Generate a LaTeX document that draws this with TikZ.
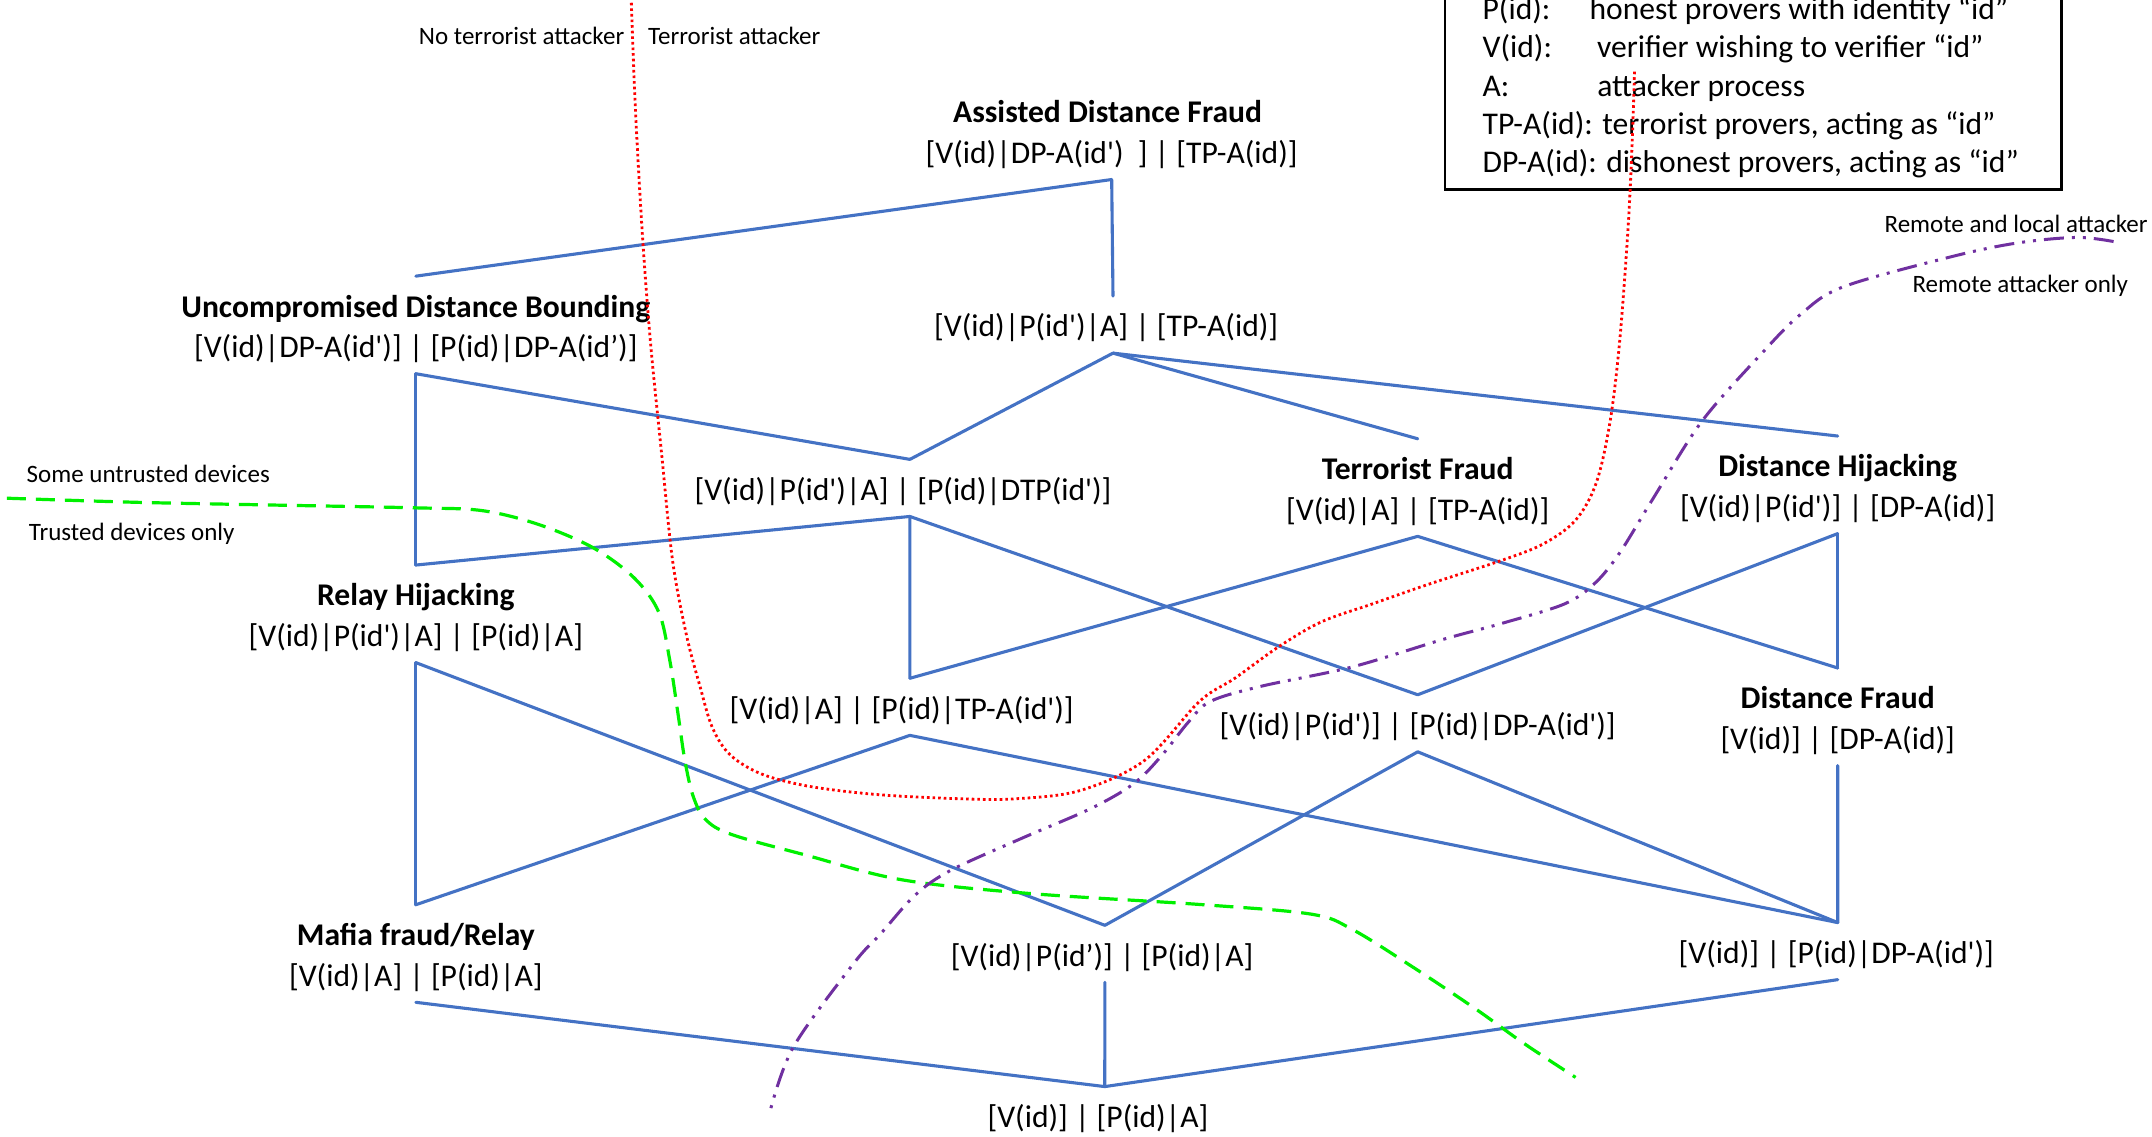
\documentclass[tikz,border=0pt]{standalone}
\usepackage{fontspec}
\setmainfont{Carlito}[Ligatures=TeXOff]
\definecolor{linkblue}{HTML}{4472C4}
\definecolor{trustgreen}{HTML}{00F000}
\definecolor{remotepurple}{HTML}{7030A0}
\begin{document}
\begin{tikzpicture}[x=0.6862pt,y=-0.6862pt,
  state/.style={inner xsep=1pt, inner ysep=6.27pt, text height=14pt, text depth=1.6pt,
    font=\fontsize{15.8}{19}\selectfont},
  title/.style={state, font=\fontsize{15.8}{19}\selectfont\bfseries},
  note/.style={inner sep=0pt, font=\fontsize{12.5}{15}\selectfont},
  legendline/.style={state, anchor=west, inner xsep=0pt},
  legendframe/.style={draw=black, line width=1.2pt},
  link/.style={draw=linkblue, line width=1.55pt, line cap=round},
  terror/.style={draw=red, line width=1.4pt, dash pattern=on 1.3pt off 1.5pt},
  trust/.style={draw=trustgreen, line width=1.6pt, dash pattern=on 9.5pt off 5pt},
  remote/.style={draw=remotepurple, line width=1.5pt,
    dash pattern=on 10pt off 4pt on 1.5pt off 4pt on 1.5pt off 4pt}
]
\useasboundingbox (0,0) rectangle (1568,828.4);
\clip (0,0) rectangle (1568,828.4);

% legend
\draw[legendframe] (1053,-40) rectangle (1502,138);
\node[legendline] (leg1) at (1080,5) {\makebox[53.5pt][l]{P(id):}honest provers with identity “id”};
\node[legendline] (leg2) at (1080,33) {\makebox[57.3pt][l]{V(id):}verifier wishing to verifier “id”};
\node[legendline] (leg3) at (1080,61) {\makebox[57.3pt][l]{A:}attacker process};
\node[legendline] (leg4) at (1080,89) {TP-A(id): terrorist provers, acting as “id”};
\node[legendline] (leg5) at (1080,117) {DP-A(id): dishonest provers, acting as “id”};

% lattice of attacker models
\node[title] (adft) at (807,80.5) {Assisted Distance Fraud};
\node[state] (adf)  at (810,110) {[V(id)|DP-A(id')\ \ ] | [TP-A(id)]};
\node[title] (udbt) at (303,222) {Uncompromised Distance Bounding};
\node[state] (udb)  at (303,251.5) {[V(id)|DP-A(id')] | [P(id)|DP-A(id’)]};
\node[state] (n3)   at (806,236.5) {[V(id)|P(id')|A] | [TP-A(id)]};
\node[state] (n4)   at (658,355.5) {[V(id)|P(id')|A] | [P(id)|DTP(id')]};
\node[title] (tft)  at (1033,340.5) {Terrorist Fraud};
\node[state] (tf)   at (1033,370) {[V(id)|A] | [TP-A(id)]};
\node[title] (dht)  at (1339,338.5) {Distance Hijacking};
\node[state] (dh)   at (1339,368) {[V(id)|P(id')] | [DP-A(id)]};
\node[title] (rht)  at (303,432.5) {Relay Hijacking};
\node[state] (rh)   at (303,462) {[V(id)|P(id')|A] | [P(id)|A]};
\node[state] (n8)   at (657,515) {[V(id)|A] | [P(id)|TP-A(id')]};
\node[state] (n9)   at (1033,527) {[V(id)|P(id')] | [P(id)|DP-A(id')]};
\node[title] (dft)  at (1339,507.5) {Distance Fraud};
\node[state] (df)   at (1339,537) {[V(id)] | [DP-A(id)]};
\node[title] (mft)  at (303,680) {Mafia fraud/Relay};
\node[state] (mf)   at (303,709.5) {[V(id)|A] | [P(id)|A]};
\node[state] (n12)  at (803,695) {[V(id)|P(id’)] | [P(id)|A]};
\node[state] (n13)  at (1338,693) {[V(id)] | [P(id)|DP-A(id')]};
\node[state] (n14)  at (800,812.5) {[V(id)] | [P(id)|A]};

\draw[link] (udbt.north) -- (adf.south);
\draw[link] (adf.south) -- ([xshift=3.4pt]n3.north);
\draw[link] ([xshift=3.4pt]n3.south) -- ([xshift=3.4pt]n4.north);
\draw[link] ([xshift=3.4pt]n3.south) -- (tft.north);
\draw[link] ([xshift=3.4pt]n3.south) -- (dht.north);
\draw[link] (udb.south) -- (rht.north);
\draw[link] (udb.south) -- ([xshift=3.4pt]n4.north);
\draw[link] (rht.north) -- ([xshift=3.4pt]n4.south);
\draw[link] ([xshift=3.4pt]n4.south) -- ([xshift=4.1pt]n8.north);
\draw[link] ([xshift=3.4pt]n4.south) -- (n9.north);
\draw[link] ([xshift=4.1pt]n8.north) -- (tf.south);
\draw[link] (tf.south) -- (dft.north);
\draw[link] (dh.south) -- (dft.north);
\draw[link] (dh.south) -- (n9.north);
\draw[link] (rh.south) -- (mft.north);
\draw[link] (rh.south) -- ([xshift=1.4pt]n12.north);
\draw[link] (mft.north) -- ([xshift=4.1pt]n8.south);
\draw[link] ([xshift=4.1pt]n8.south) -- ([xshift=0.7pt]n13.north);
\draw[link] (n9.south) -- ([xshift=1.4pt]n12.north);
\draw[link] (n9.south) -- ([xshift=0.7pt]n13.north);
\draw[link] (df.south) -- ([xshift=0.7pt]n13.north);
\draw[link] (mf.south) -- ([xshift=3.4pt]n14.north);
\draw[link] ([xshift=1.4pt]n12.south) -- ([xshift=3.4pt]n14.north);
\draw[link] ([xshift=0.7pt]n13.south) -- ([xshift=3.4pt]n14.north);

% boundary labels
\node[note] (noterr) at (380,26.5) {No terrorist attacker};
\node[note] (terr)   at (535,26.5) {Terrorist attacker};
\node[note] (untr)   at (108,345) {Some untrusted devices};
\node[note] (trus)   at (96,389) {Trusted devices only};
\node[note] (rloc)   at (1469,163) {Remote and local attacker};
\node[note] (ronly)  at (1472,208) {Remote attacker only};

% terrorist boundary
\draw[terror] plot[smooth, tension=0.55] coordinates {
  (460,2) (463,80) (468,170) (474,250) (482,330) (490,408) (500,462)
  (510,500) (519,530) (532,550) (555,564) (590,573) (640,579) (700,582)
  (740,582) (787,576) (834,554) (874,511) (900,494) (932,471) (963,453)
  (1000,440) (1040,426) (1095,408) (1125,396) (1148,379) (1163,352)
  (1173,308) (1180,250) (1186,170) (1189,110) (1191,51)};

% trusted-device boundary
\draw[trust] plot[smooth, tension=0.55] coordinates {
  (5,363) (100,366) (200,368) (302,370) (351,372) (392,382) (432,399)
  (462,421) (480,446) (488,481) (494,520) (499,554) (505,580) (514,597)
  (533,608) (587,623) (657,641) (750,651) (874,659) (955,666) (985,677)
  (1030,705) (1075,735) (1110,760) (1148,785)};

% remote attacker boundary
\draw[remote] plot[smooth, tension=0.55] coordinates {
  (1540,176) (1513,173) (1470,177) (1422,187) (1343,209) (1312,229)
  (1285,256) (1240,307) (1204,364) (1180,403) (1162,425) (1140,440)
  (1095,454) (1051,466) (985,486) (919,500) (882,511) (866,526)
  (846,551) (826,571) (795,589) (744,611) (693,634) (667,652)
  (642,680) (622,702) (578,763) (561,810)};
\end{tikzpicture}
\end{document}
